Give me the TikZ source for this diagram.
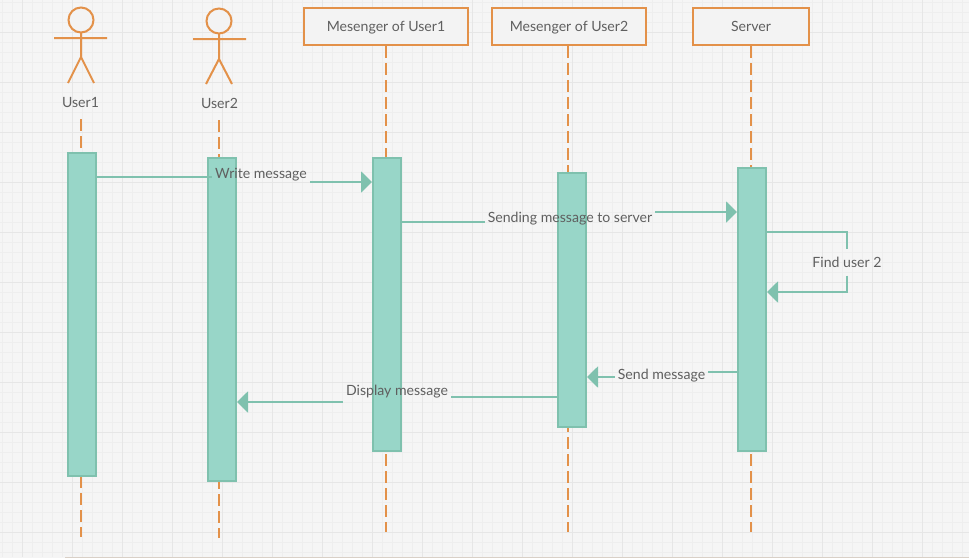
\documentclass[tikz,border=0pt]{standalone}
\usepackage{fontspec}
\setmainfont{Lato}
\usetikzlibrary{arrows.meta}
\definecolor{pagebg}{HTML}{F5F5F5}
\definecolor{gridminor}{HTML}{EEEEEE}
\definecolor{gridmajor}{HTML}{E6E6E6}
\definecolor{orangeline}{HTML}{E39149}
\definecolor{tealline}{HTML}{7FC1AE}
\definecolor{tealfill}{HTML}{98D6C8}
\definecolor{headfill}{HTML}{F3F3F3}
\definecolor{textgrey}{HTML}{5F5F5F}
\tikzset{
  x=1pt,y=-1pt,
  lbl/.style={font=\fontsize{14.1}{16}\selectfont,text=textgrey,inner sep=3pt},
  headbox/.style={draw=orangeline,fill=headfill,line width=2pt,inner sep=0pt,anchor=north west,font=\fontsize{14.1}{16}\selectfont,text=textgrey,text height=12pt,text depth=2.6pt},
  actbox/.style={draw=tealline,fill=tealfill,line width=2pt,inner sep=0pt,anchor=north west},
  lifeline/.style={draw=orangeline,line width=2pt,dash pattern=on 12pt off 5pt},
  stick/.style={draw=orangeline,line width=2pt},
  msg/.style={draw=tealline,line width=2pt},
  msgarrow/.style={msg,-{Triangle[length=11pt,width=21pt,fill=tealline]}},
}
\begin{document}
\begin{tikzpicture}
\useasboundingbox (0,0) rectangle (969,558);
\fill[pagebg] (0,0) rectangle (969,558);
\begin{scope}
\clip (0,0) rectangle (969,556);
\foreach \k in {0,...,96} \draw[gridminor,line width=1pt] (2+10*\k,0) -- (2+10*\k,558);
\foreach \k in {0,...,55} \draw[gridminor,line width=1pt] (0,2+10*\k) -- (969,2+10*\k);
\foreach \k in {0,...,19} \draw[gridmajor,line width=1pt] (22+50*\k,0) -- (22+50*\k,558);
\foreach \k in {0,...,10} \draw[gridmajor,line width=1pt] (0,32+50*\k) -- (969,32+50*\k);
\end{scope}
\draw[gridmajor!80!orange!60!gray!60,line width=1pt] (65,557) -- (969,557);

% headers
\node[headbox,minimum width=164pt,minimum height=37pt] (hA) at (303,7) {Mesenger of User1};
\node[headbox,minimum width=154pt,minimum height=37pt] (hB) at (491,7) {Mesenger of User2};
\node[headbox,minimum width=116pt,minimum height=37pt] (hC) at (692,7) {Server};

% actor labels
\node[lbl] (uA) at (80.5,102.5) {User1};
\node[lbl] (uB) at (219.5,103.5) {User2};

% ends of the lifelines
\coordinate (sU) at (81,119);
\coordinate (sV) at (219,120);
\coordinate (eU) at (81,537);
\coordinate (eV) at (219,538);
\coordinate (eA) at (386,532);
\coordinate (eB) at (568,532);
\coordinate (eC) at (751,532);

% lifelines, continuous behind the activation bars
\path[lifeline] (sU) -- (eU);
\path[lifeline] (sV) -- (eV);
\path[lifeline] (hA.south -| eA) -- (eA);
\path[lifeline] (hB.south -| eB) -- (eB);
\path[lifeline] (hC.south -| eC) -- (eC);

\node[actbox,minimum width=28pt,minimum height=323pt] (aU) at (67,152) {};
\node[actbox,minimum width=28pt,minimum height=323pt] (aV) at (207,157) {};
\node[actbox,minimum width=28pt,minimum height=293pt] (aA) at (372,157) {};
\node[actbox,minimum width=28pt,minimum height=254pt] (aB) at (557,172) {};
\node[actbox,minimum width=28pt,minimum height=283pt] (aC) at (737,167) {};

% actors
\draw[stick,fill=headfill] (81,20) circle (12.5);
\draw[stick] (81,32.5) -- (81,57) (54,38) -- (107,38) (68,83) -- (81,57) -- (94,83);
\draw[stick,fill=headfill] (219,21) circle (12.5);
\draw[stick] (219,33.5) -- (219,59) (193,39) -- (246,39) (206,84) -- (219,59) -- (232,84);

% message labels
\node[lbl] (mW) at (261,175) {Write message};
\node[lbl] (mS) at (570,219) {Sending message to server};
\node[lbl,minimum height=26pt] (mF) at (847,262.5) {Find user 2};
\node[lbl] (mN) at (661.5,376) {Send message};
\node[lbl] (mD) at (397,392) {Display message};

% messages
\draw[msg] (aU.east |- 0,177) -- (mW.west |- 0,177);
\draw[msgarrow] (mW.east |- 0,182) -- (aA.west |- 0,182);
\draw[msg] (aA.east |- 0,222) -- (mS.west |- 0,222);
\draw[msgarrow] (mS.east |- 0,212) -- (aC.west |- 0,212);
\draw[msg] (aC.east |- 0,232) -- (mF.north |- 0,232) -- (mF.north);
\draw[msgarrow] (mF.south) -- (mF.south |- 0,292) -- (aC.east |- 0,292);
\draw[msg] (aC.west |- 0,372) -- (mN.east |- 0,372);
\draw[msgarrow] (mN.west |- 0,377) -- (aB.east |- 0,377);
\draw[msg] (aB.west |- 0,397) -- (mD.east |- 0,397);
\draw[msgarrow] (mD.west |- 0,402) -- (aV.east |- 0,402);
\end{tikzpicture}
\end{document}
